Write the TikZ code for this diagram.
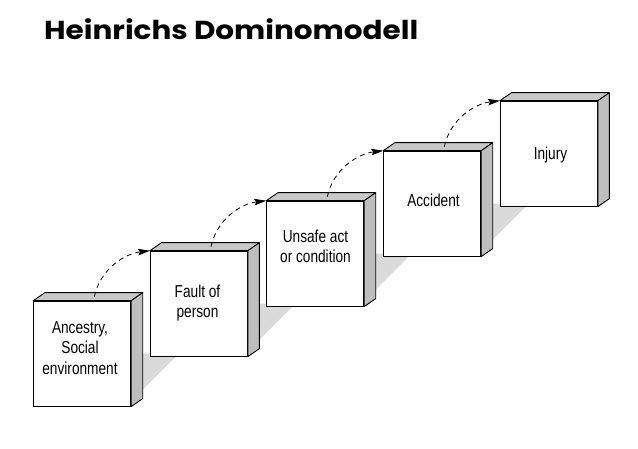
\documentclass[tikz,border=0pt]{standalone}
\usepackage{fontspec}
\usetikzlibrary{calc,arrows.meta,backgrounds}
\newfontfamily\boxfont{Liberation Sans}[FakeStretch=0.79]
\newfontfamily\titlefont{Poppins}
\definecolor{sidegray}{RGB}{190,190,190}
\definecolor{topgray}{RGB}{200,200,200}
\definecolor{shadowgray}{RGB}{218,218,218}
\begin{document}
\begin{tikzpicture}[x=1pt,y=-1pt,
  cube/.style={draw,line width=0.9pt,fill=white,minimum width=97pt,minimum height=105pt,inner sep=0pt,anchor=north west},
  face/.style={draw,line width=0.9pt,line join=round},
  lbl/.style={font=\boxfont\fontsize{17.3}{20}\selectfont,align=center,inner sep=0pt,anchor=base},
  flow/.style={line width=0.8pt,dash pattern=on 5pt off 4pt,-{Stealth[length=12pt,width=6.5pt,inset=2pt]}}]
\useasboundingbox (0,0) rectangle (638,449);
\node[font=\titlefont\bfseries\fontsize{26}{30}\selectfont,anchor=base west,inner sep=0pt] (title) at (44,39.3) {\resizebox{374pt}{\height}{Heinrichs Dominomodell}};
\node[cube] (b1) at (33.3,300.7) {};
\node[cube] (b2) at (150,250.7) {};
\node[cube] (b3) at (266.3,200.7) {};
\node[cube] (b4) at (383.3,150.7) {};
\node[cube] (b5) at (500,100.7) {};
\foreach \i in {1,...,5}{
  \draw[face,fill=topgray] (b\i.north west) -- ++(11.5,-8) -- ($(b\i.north east)+(11.5,-8)$) -- (b\i.north east) -- cycle;
  \draw[face,fill=sidegray] (b\i.north east) -- ++(11.5,-8) -- ($(b\i.south east)+(11.5,-8)$) -- (b\i.south east) -- cycle;
}
\begin{pgfonlayer}{background}
\fill[white] (0,0) rectangle (638,449);
\foreach \i/\j in {1/2,2/3,3/4,4/5}{
  \fill[shadowgray] ($(b\i.east)+(11.5,0)$ |- b\j.south) -- ++(36,0) -- ++(-36,36) -- cycle;
}
\end{pgfonlayer}
\node[lbl] (t1) at (80,374) {Ancestry,\\Social\\environment};
\node[lbl] (t2) at (197.5,318) {Fault of\\person};
\node[lbl] (t3) at (315.5,263) {Unsafe act\\or condition};
\node[lbl] (t4) at (433.5,207) {Accident};
\node[lbl] (t5) at (550.5,160) {Injury};
\foreach \i/\j in {1/2,2/3,3/4,4/5}{
  \draw[flow] ($(b\i.north west)+(61,-4)$) .. controls +(6,-28) and +(-25,3) .. (b\j.north west);
}
\end{tikzpicture}
\end{document}
